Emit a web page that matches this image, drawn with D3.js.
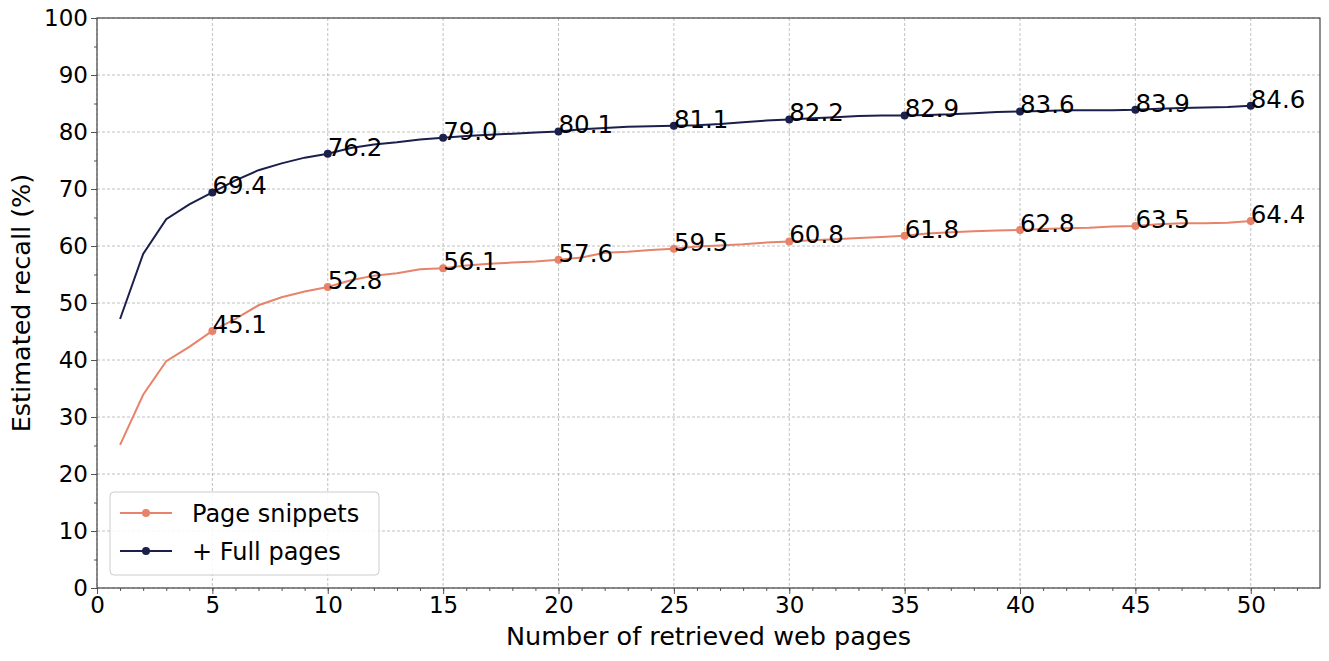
<!DOCTYPE html><html><head><meta charset="utf-8"><script src="https://cdn.jsdelivr.net/npm/d3@7"></script>
<style>body{margin:0;background:#fff}text{font-family:"DejaVu Sans",sans-serif}</style></head><body><svg id="c" width="1329" height="661"></svg>
<script>
const pages = d3.range(1,51);
const snippets = [25.1,33.9,39.8,42.3,45.1,47.2,49.6,51.0,52.0,52.8,54.0,54.8,55.2,55.9,56.1,56.6,56.9,57.1,57.3,57.6,58.0,58.8,59.0,59.3,59.5,59.9,60.1,60.3,60.6,60.8,61.0,61.2,61.4,61.6,61.8,62.2,62.4,62.6,62.7,62.8,63.0,63.1,63.2,63.4,63.5,63.8,64.0,64.0,64.1,64.4];
const full = [47.2,58.6,64.7,67.3,69.4,71.5,73.3,74.5,75.5,76.2,77.2,77.8,78.2,78.7,79.0,79.3,79.5,79.7,79.9,80.1,80.5,80.7,80.9,81.0,81.1,81.2,81.4,81.7,82.0,82.2,82.4,82.6,82.8,82.9,82.9,83.0,83.1,83.3,83.5,83.6,83.7,83.8,83.8,83.8,83.9,84.1,84.2,84.3,84.4,84.6];
const xTicks = d3.range(0,51,5), yTicks = d3.range(0,101,10);
const series = [{name:"Page snippets",vals:snippets,color:"#e8836b"},{name:"+ Full pages",vals:full,color:"#1b1f4b"}];
const L=97,R=1320,T=18,B=588;
const svg=d3.select("#c");
const x=d3.scaleLinear().domain([0,53]).range([L,R]);
const y=d3.scaleLinear().domain([0,100]).range([B,T]);
const g=svg.append("g");
g.selectAll(".gx").data(xTicks).join("line").attr("x1",d=>x(d)).attr("x2",d=>x(d)).attr("y1",T).attr("y2",B).attr("stroke","#b0b0b0").attr("stroke-dasharray","3,2").attr("stroke-width",0.8);
g.selectAll(".gy").data(yTicks).join("line").attr("y1",d=>y(d)).attr("y2",d=>y(d)).attr("x1",L).attr("x2",R).attr("stroke","#b0b0b0").attr("stroke-dasharray","3,2").attr("stroke-width",0.8);
svg.append("g").attr("transform",`translate(0,${B})`).call(d3.axisBottom(x).tickValues(xTicks).tickSize(6).tickPadding(3));
svg.append("g").attr("transform",`translate(0,${B})`).call(d3.axisBottom(x).tickValues(d3.range(0,53)).tickSize(3).tickFormat(""));
svg.append("g").attr("transform",`translate(${L},0)`).call(d3.axisLeft(y).tickValues(yTicks).tickSize(6).tickPadding(3));
svg.append("g").attr("transform",`translate(${L},0)`).call(d3.axisLeft(y).tickValues(d3.range(5,100,10)).tickSize(3).tickFormat(""));
svg.selectAll(".domain").remove();
svg.selectAll(".tick line").attr("stroke","#555");
svg.selectAll(".tick text").attr("font-size",23).attr("fill","#000").style("font-family","DejaVu Sans");
svg.append("rect").attr("x",L).attr("y",T).attr("width",R-L).attr("height",B-T).attr("fill","none").attr("stroke","#444").attr("stroke-width",1.2);
const line=d3.line().x((d,i)=>x(pages[i])).y(d=>y(d));
series.forEach(s=>{
 svg.append("path").datum(s.vals).attr("d",line).attr("fill","none").attr("stroke",s.color).attr("stroke-width",2);
 const idx=pages.map((p,i)=>i).filter(i=>pages[i]%5===0);
 svg.selectAll(null).data(idx).join("circle").attr("cx",i=>x(pages[i])).attr("cy",i=>y(s.vals[i])).attr("r",4).attr("fill",s.color);
 svg.selectAll(null).data(idx).join("text").attr("x",i=>x(pages[i])).attr("y",i=>y(s.vals[i])+2).attr("font-size",24.5).text(i=>s.vals[i].toFixed(1));
});
svg.append("text").attr("x",(L+R)/2).attr("y",645).attr("text-anchor","middle").attr("font-size",25.5).text("Number of retrieved web pages");
svg.append("text").attr("transform",`translate(30,${(T+B)/2}) rotate(-90)`).attr("text-anchor","middle").attr("font-size",25.5).text("Estimated recall (%)");
const lg=svg.append("g");
lg.append("rect").attr("x",110).attr("y",492).attr("width",269).attr("height",83).attr("rx",4).attr("fill","#fff").attr("fill-opacity",0.85).attr("stroke","#ccc");
series.forEach((s,i)=>{const yy=513+i*38;
 lg.append("line").attr("x1",120).attr("x2",172).attr("y1",yy).attr("y2",yy).attr("stroke",s.color).attr("stroke-width",2);
 lg.append("circle").attr("cx",146).attr("cy",yy).attr("r",4).attr("fill",s.color);
 lg.append("text").attr("x",192).attr("y",yy+9).attr("font-size",24).text(s.name);});
</script></body></html>
